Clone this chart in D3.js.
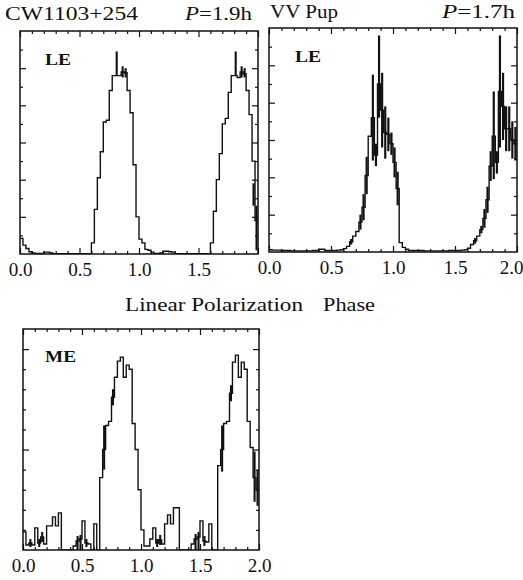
<!DOCTYPE html>
<html>
<head>
<meta charset="utf-8">
<script src="https://cdn.jsdelivr.net/npm/d3@7"></script>
<style>
  body { margin: 0; background: #fff; }
  text { font-family: "Liberation Serif", "DejaVu Serif", serif; fill: #111; }
</style>
</head>
<body>
<script>
// Phase is binned in steps of 0.025, two cycles shown (0 .. 2)
var binWidth = 0.025;
var xMajor = [0, 0.5, 1.0, 1.5, 2.0];
var xLabels = ['0.0', '0.5', '1.0', '1.5', '2.0'];
var xMinor = d3.range(0.1, 2, 0.1).filter(d => Math.abs(d * 2 - Math.round(d * 2)) > 1e-6);

// CW1103+254, LE  (arbitrary units, axis 0..12)
var cwValues = [
  0.84, 0.48, 0.30, 0.12, 0.05, 0.03, 0.03, 0.03, 0.10, 0.10,
  0.05, 0.02, 0.02, 0.02, 0.02, 0.02, 0.02, 0.02, 0.02, 0.02,
  0.02, 0.02, 0.02, 0.00, 0.60, 2.40, 4.10, 5.50, 7.10, 7.20,
  8.80, 9.60, 9.60, 9.60, 9.80, 9.75, 8.80, 7.60, 4.80, 2.00,
  0.80, 0.60, 0.25, 0.20, 0.10, 0.03, 0.03, 0.05, 0.15, 0.15,
  0.12, 0.10, 0.02, 0.02, 0.02, 0.02, 0.02, 0.02, 0.02, 0.02,
  0.02, 0.02, 0.02, 0.00, 0.60, 2.30, 4.00, 5.40, 7.00, 7.30,
  8.70, 9.60, 9.60, 9.50, 9.80, 9.70, 8.80, 7.50, 5.00, 1.80
];
// [bin, low, high]
var cwBars = [[32, 9.6, 10.9], [34, 9.5, 10.1], [35, 9.5, 10.0],
  [72, 9.6, 10.9], [74, 9.5, 10.1], [75, 9.5, 10.0], [78, 2.6, 3.8], [79, 0.2, 2.6]];

// VV Pup, LE  (axis 0..12)
var vvValues = [
  0.12, 0.10, 0.10, 0.10, 0.08, 0.08, 0.08, 0.06, 0.06, 0.06,
  0.06, 0.06, 0.06, 0.06, 0.08, 0.08, 0.15, 0.15, 0.08, 0.08,
  0.08, 0.08, 0.10, 0.12, 0.18, 0.30, 0.55, 0.85, 1.10, 1.60,
  2.40, 4.10, 6.20, 7.20, 5.20, 9.00, 7.60, 6.40, 6.30, 5.80,
  4.80, 3.40, 0.50, 0.25, 0.15, 0.08, 0.08, 0.08, 0.08, 0.08,
  0.06, 0.06, 0.06, 0.06, 0.06, 0.06, 0.06, 0.06, 0.08, 0.08,
  0.08, 0.08, 0.10, 0.12, 0.20, 0.40, 0.60, 0.85, 1.20, 1.80,
  2.80, 4.60, 6.20, 4.80, 8.60, 7.80, 6.60, 6.60, 6.00, 5.80
];
var vvBars = [[26, 0.4, 0.7], [29, 1.2, 2.0], [30, 1.7, 3.1], [31, 3.1, 5.1], [33, 4.9, 9.5],
  [34, 4.6, 5.8], [35, 7.2, 11.6], [36, 5.6, 9.6], [37, 5.0, 7.8], [38, 5.4, 7.2], [39, 5.2, 6.4],
  [40, 4.0, 5.6], [41, 2.5, 4.3],
  [66, 0.45, 0.75], [68, 1.0, 1.4], [69, 1.3, 2.3], [70, 2.1, 3.5], [71, 3.8, 5.4], [72, 3.9, 8.6],
  [73, 4.2, 5.4], [74, 5.6, 11.6], [75, 6.0, 9.6], [76, 5.4, 7.8], [77, 5.4, 7.8], [78, 5.0, 7.0],
  [79, 4.9, 6.7]];

// CW1103+254, ME  (axis 0..11)
var meValues = [
  0.90, 0.25, 0.35, 0.25, 1.10, 0.35, 0.65, 0.30, 1.20, 1.20,
  1.65, 1.20, 1.85, 0.00, 0.00, 0.00, 0.00, 0.20, 0.45, 0.55,
  1.45, 0.35, 0.30, 0.00, 1.30, 0.00, 3.60, 5.00, 6.20, 6.40,
  7.60, 8.60, 9.40, 9.60, 8.60, 9.20, 9.00, 6.30, 5.00, 3.00,
  1.00, 0.20, 0.20, 0.55, 1.10, 0.35, 0.50, 0.30, 1.30, 1.75,
  1.30, 2.10, 2.10, 0.00, 0.00, 0.00, 0.00, 0.30, 0.55, 0.65,
  1.45, 0.45, 0.40, 1.30, 0.00, 0.00, 4.20, 5.00, 6.30, 6.40,
  7.80, 9.35, 9.70, 8.60, 9.35, 9.00, 6.40, 5.10, 3.60, 3.00
];
var meBars = [[2, 0.15, 0.55], [5, 0.15, 0.55], [6, 0.4, 0.9], [18, 0.0, 0.7], [19, 0.0, 0.75],
  [21, 0.15, 0.55], [27, 4.0, 6.2], [30, 7.2, 8.0], [45, 0.15, 0.55], [46, 0.25, 0.75],
  [58, 0.0, 0.8], [59, 0.0, 0.9], [61, 0.2, 0.7], [67, 3.9, 6.2], [70, 7.4, 8.2],
  [78, 2.4, 4.9], [79, 2.2, 4.0]];

var svg = d3.select('body').append('svg')
  .attr('width', 523)
  .attr('height', 580);

var panels = [
  { id: 'cw', x0: 20, x1: 258, y0: 31, y1: 254, yMax: 12, values: cwValues, bars: cwBars,
    band: 'LE', bandX: 45, bandY: 65, bandW: 26, labelled: [0, 1, 2, 3] },
  { id: 'vv', x0: 269, x1: 517, y0: 28, y1: 252, yMax: 12, values: vvValues, bars: vvBars,
    band: 'LE', bandX: 295, bandY: 62, bandW: 26, labelled: [0, 1, 2, 3, 4] },
  { id: 'me', x0: 23, x1: 259, y0: 329, y1: 550, yMax: 11, values: meValues, bars: meBars,
    band: 'ME', bandX: 45, bandY: 362, bandW: 31, labelled: [0, 1, 2, 3, 4] }
];

panels.forEach(drawPanel);

function drawPanel(p) {
  var x = d3.scaleLinear().domain([0, 2]).range([p.x0, p.x1]);
  var y = d3.scaleLinear().domain([0, p.yMax]).range([p.y1, p.y0]);
  var yTicks = d3.range(1, p.yMax);
  var yMajor = p.yMax == 11 ? [5, 10] : [2, 4, 6, 8, 10];
  var yMinor = yTicks.filter(d => yMajor.indexOf(d) < 0);

  var g = svg.append('g');

  g.append('clipPath').attr('id', 'clip-' + p.id)
    .append('rect')
    .attr('x', p.x0).attr('y', p.y0)
    .attr('width', p.x1 - p.x0).attr('height', p.y1 - p.y0);

  var plot = g.append('g').attr('clip-path', 'url(#clip-' + p.id + ')');

  var pts = p.values.map((v, i) => [i * binWidth, v]);
  pts.push([2, p.values[p.values.length - 1]]);

  var line = d3.line()
    .x(d => x(d[0]))
    .y(d => y(d[1]))
    .curve(d3.curveStepAfter);

  plot.append('path')
    .attr('d', line(pts))
    .attr('fill', 'none')
    .attr('stroke', '#111')
    .attr('stroke-width', 1.4);

  var bw = x(binWidth) - x(0);
  plot.selectAll('rect.bar')
    .data(p.bars)
    .enter().append('rect')
    .attr('class', 'bar')
    .attr('x', d => x((d[0] + 0.5) * binWidth) - bw * 0.35)
    .attr('width', bw * 0.7)
    .attr('y', d => y(d[2]))
    .attr('height', d => y(d[1]) - y(d[2]))
    .attr('fill', '#111');

  // frame
  g.append('rect')
    .attr('x', p.x0).attr('y', p.y0)
    .attr('width', p.x1 - p.x0).attr('height', p.y1 - p.y0)
    .attr('fill', 'none')
    .attr('stroke', '#111')
    .attr('stroke-width', 1.5);

  // inward ticks on all four sides
  var bottom = g.append('g')
    .attr('transform', 'translate(0,' + p.y1 + ')')
    .call(d3.axisBottom(x).tickValues(xMajor).tickSize(-6).tickPadding(9)
      .tickFormat((d, i) => p.labelled.indexOf(i) >= 0 ? xLabels[i] : ''));
  bottom.selectAll('text')
    .style('font-size', '19px')
    .style('font-family', '"Liberation Serif", serif')
    .attr('fill', '#111')
    // the last label of the right panel is pushed in so it stays on the page
    .attr('dx', d => (d == 2 && p.x1 > 500) ? -6 : 0);

  g.append('g').attr('transform', 'translate(0,' + p.y1 + ')')
    .call(d3.axisBottom(x).tickValues(xMinor).tickSize(-3).tickFormat(''));
  g.append('g').attr('transform', 'translate(0,' + p.y0 + ')')
    .call(d3.axisTop(x).tickValues(xMajor).tickSize(-6).tickFormat(''));
  g.append('g').attr('transform', 'translate(0,' + p.y0 + ')')
    .call(d3.axisTop(x).tickValues(xMinor).tickSize(-3).tickFormat(''));

  g.append('g').attr('transform', 'translate(' + p.x0 + ',0)')
    .call(d3.axisLeft(y).tickValues(yMajor).tickSize(-6).tickFormat(''));
  g.append('g').attr('transform', 'translate(' + p.x0 + ',0)')
    .call(d3.axisLeft(y).tickValues(yMinor).tickSize(-3).tickFormat(''));
  g.append('g').attr('transform', 'translate(' + p.x1 + ',0)')
    .call(d3.axisRight(y).tickValues(yMajor).tickSize(-6).tickFormat(''));
  g.append('g').attr('transform', 'translate(' + p.x1 + ',0)')
    .call(d3.axisRight(y).tickValues(yMinor).tickSize(-3).tickFormat(''));

  g.selectAll('.domain').remove();
  g.selectAll('.tick line').attr('stroke', '#111').attr('stroke-width', 1.2);

  g.append('text')
    .attr('x', p.bandX).attr('y', p.bandY)
    .attr('textLength', p.bandW)
    .attr('lengthAdjust', 'spacingAndGlyphs')
    .style('font-size', '16px')
    .style('font-weight', 'bold')
    .text(p.band);
}

// titles
function title(txt, x, yb, w) {
  svg.append('text')
    .attr('x', x).attr('y', yb)
    .attr('textLength', w).attr('lengthAdjust', 'spacingAndGlyphs')
    .style('font-size', '19px')
    .text(txt);
}
function period(val, x, yb, w) {
  var t = svg.append('text')
    .attr('x', x).attr('y', yb)
    .attr('textLength', w).attr('lengthAdjust', 'spacingAndGlyphs')
    .style('font-size', '19px');
  t.append('tspan').style('font-style', 'italic').text('P');
  t.append('tspan').text('=' + val + 'h');
}

title('CW1103+254', 5, 20, 133);
period('1.9', 185, 20, 67);
title('VV Pup', 270, 18, 68);
period('1.7', 442, 18, 73);
title('Linear Polarization', 125, 310.5, 178);
title('Phase', 323, 310.5, 52);
</script>
</body>
</html>
